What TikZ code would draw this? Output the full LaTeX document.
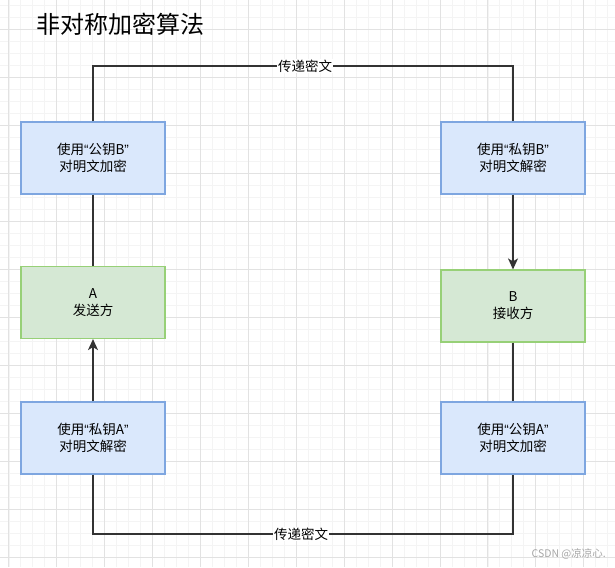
\documentclass[tikz,border=0pt]{standalone}
\usepackage{fontspec}
\setmainfont{Noto Sans CJK SC}
\newfontfamily\quotefont{Liberation Sans}
\usetikzlibrary{arrows.meta}
\definecolor{bluefill}{HTML}{DAE8FC}
\definecolor{bluedraw}{HTML}{7EA6E0}
\definecolor{greenfill}{HTML}{D5E8D4}
\definecolor{greendraw}{HTML}{97D077}
\definecolor{linecol}{HTML}{333333}
\definecolor{gridmajor}{HTML}{E2E2E2}
\definecolor{gridminor}{HTML}{F4F4F4}
\newcommand\qo{{\quotefont “}}
\newcommand\qc{{\quotefont ”}}
\tikzset{
  box/.style={draw, line width=1.2pt, minimum width=144pt, minimum height=72pt, inner sep=0pt,
    align=center, font=\fontsize{13.5}{17}\selectfont},
  bluebox/.style={box, fill=bluefill, draw=bluedraw},
  greenbox/.style={box, fill=greenfill, draw=greendraw},
  conn/.style={draw=linecol, line width=1.3pt},
  arr/.style={conn, -{Stealth[length=11pt,width=10pt,inset=3pt]}},
  lbl/.style={fill=white, inner sep=1pt, font=\fontsize{13.5}{16}\selectfont}
}
\begin{document}
\begin{tikzpicture}[x=1pt,y=-1pt]
\useasboundingbox (0,0) rectangle (615,567);
\fill[white] (0,0) rectangle (615,567);
% grid
\foreach \i in {0,...,52} {
  \draw[gridminor, line width=0.6pt] ({8.8+11.975*(\i-1)},0) -- ++(0,567);
}
\foreach \j in {0,...,48} {
  \draw[gridminor, line width=0.6pt] (0,{29+12*(\j-3)}) -- ++(615,0);
}
\foreach \i in {0,...,13} {
  \draw[gridmajor, line width=0.8pt] ({8.8+47.9*\i},0) -- ++(0,567);
}
\foreach \j in {0,...,12} {
  \draw[gridmajor, line width=0.8pt] (0,{29+48*\j}) -- ++(615,0);
}
% title
\node[font=\fontsize{24}{28}\selectfont, anchor=west, inner sep=0pt] (title) at (36,24) {非对称加密算法};
% boxes
\node[bluebox] (pubB) at (93,158) {使用\qo 公钥B\qc\\对明文加密};
\node[greenbox] (A) at (93,302.5) {A\\发送方};
\node[bluebox] (privA) at (93,438) {使用\qo 私钥A\qc\\对明文解密};
\node[bluebox] (privB) at (513,158) {使用\qo 私钥B\qc\\对明文解密};
\node[greenbox] (B) at (513,306) {B\\接收方};
\node[bluebox] (pubA) at (513,438) {使用\qo 公钥A\qc\\对明文加密};
% connectors
\coordinate (t1) at (93,66);
\coordinate (t2) at (513,66);
\coordinate (b1) at (93,534);
\coordinate (b2) at (513,534);
\draw[conn] (pubB.north) -- (t1) -- node[lbl, xshift=2pt] (lt) {传递密文} (t2) -- (privB.north);
\draw[conn] (privA.south) -- (b1) -- node[lbl, xshift=-2pt] (lb) {传递密文} (b2) -- (pubA.south);
\draw[conn] (pubB.south) -- (A.north);
\draw[arr] (privA.north) -- (A.south);
\draw[arr] (privB.south) -- (B.north);
\draw[conn] (B.south) -- (pubA.north);
% watermark
\node[text=black!35, font=\fontsize{10.5}{12}\selectfont, anchor=east, inner sep=0pt] (wm) at (606,554) {CSDN @凉凉心.};
\end{tikzpicture}
\end{document}
